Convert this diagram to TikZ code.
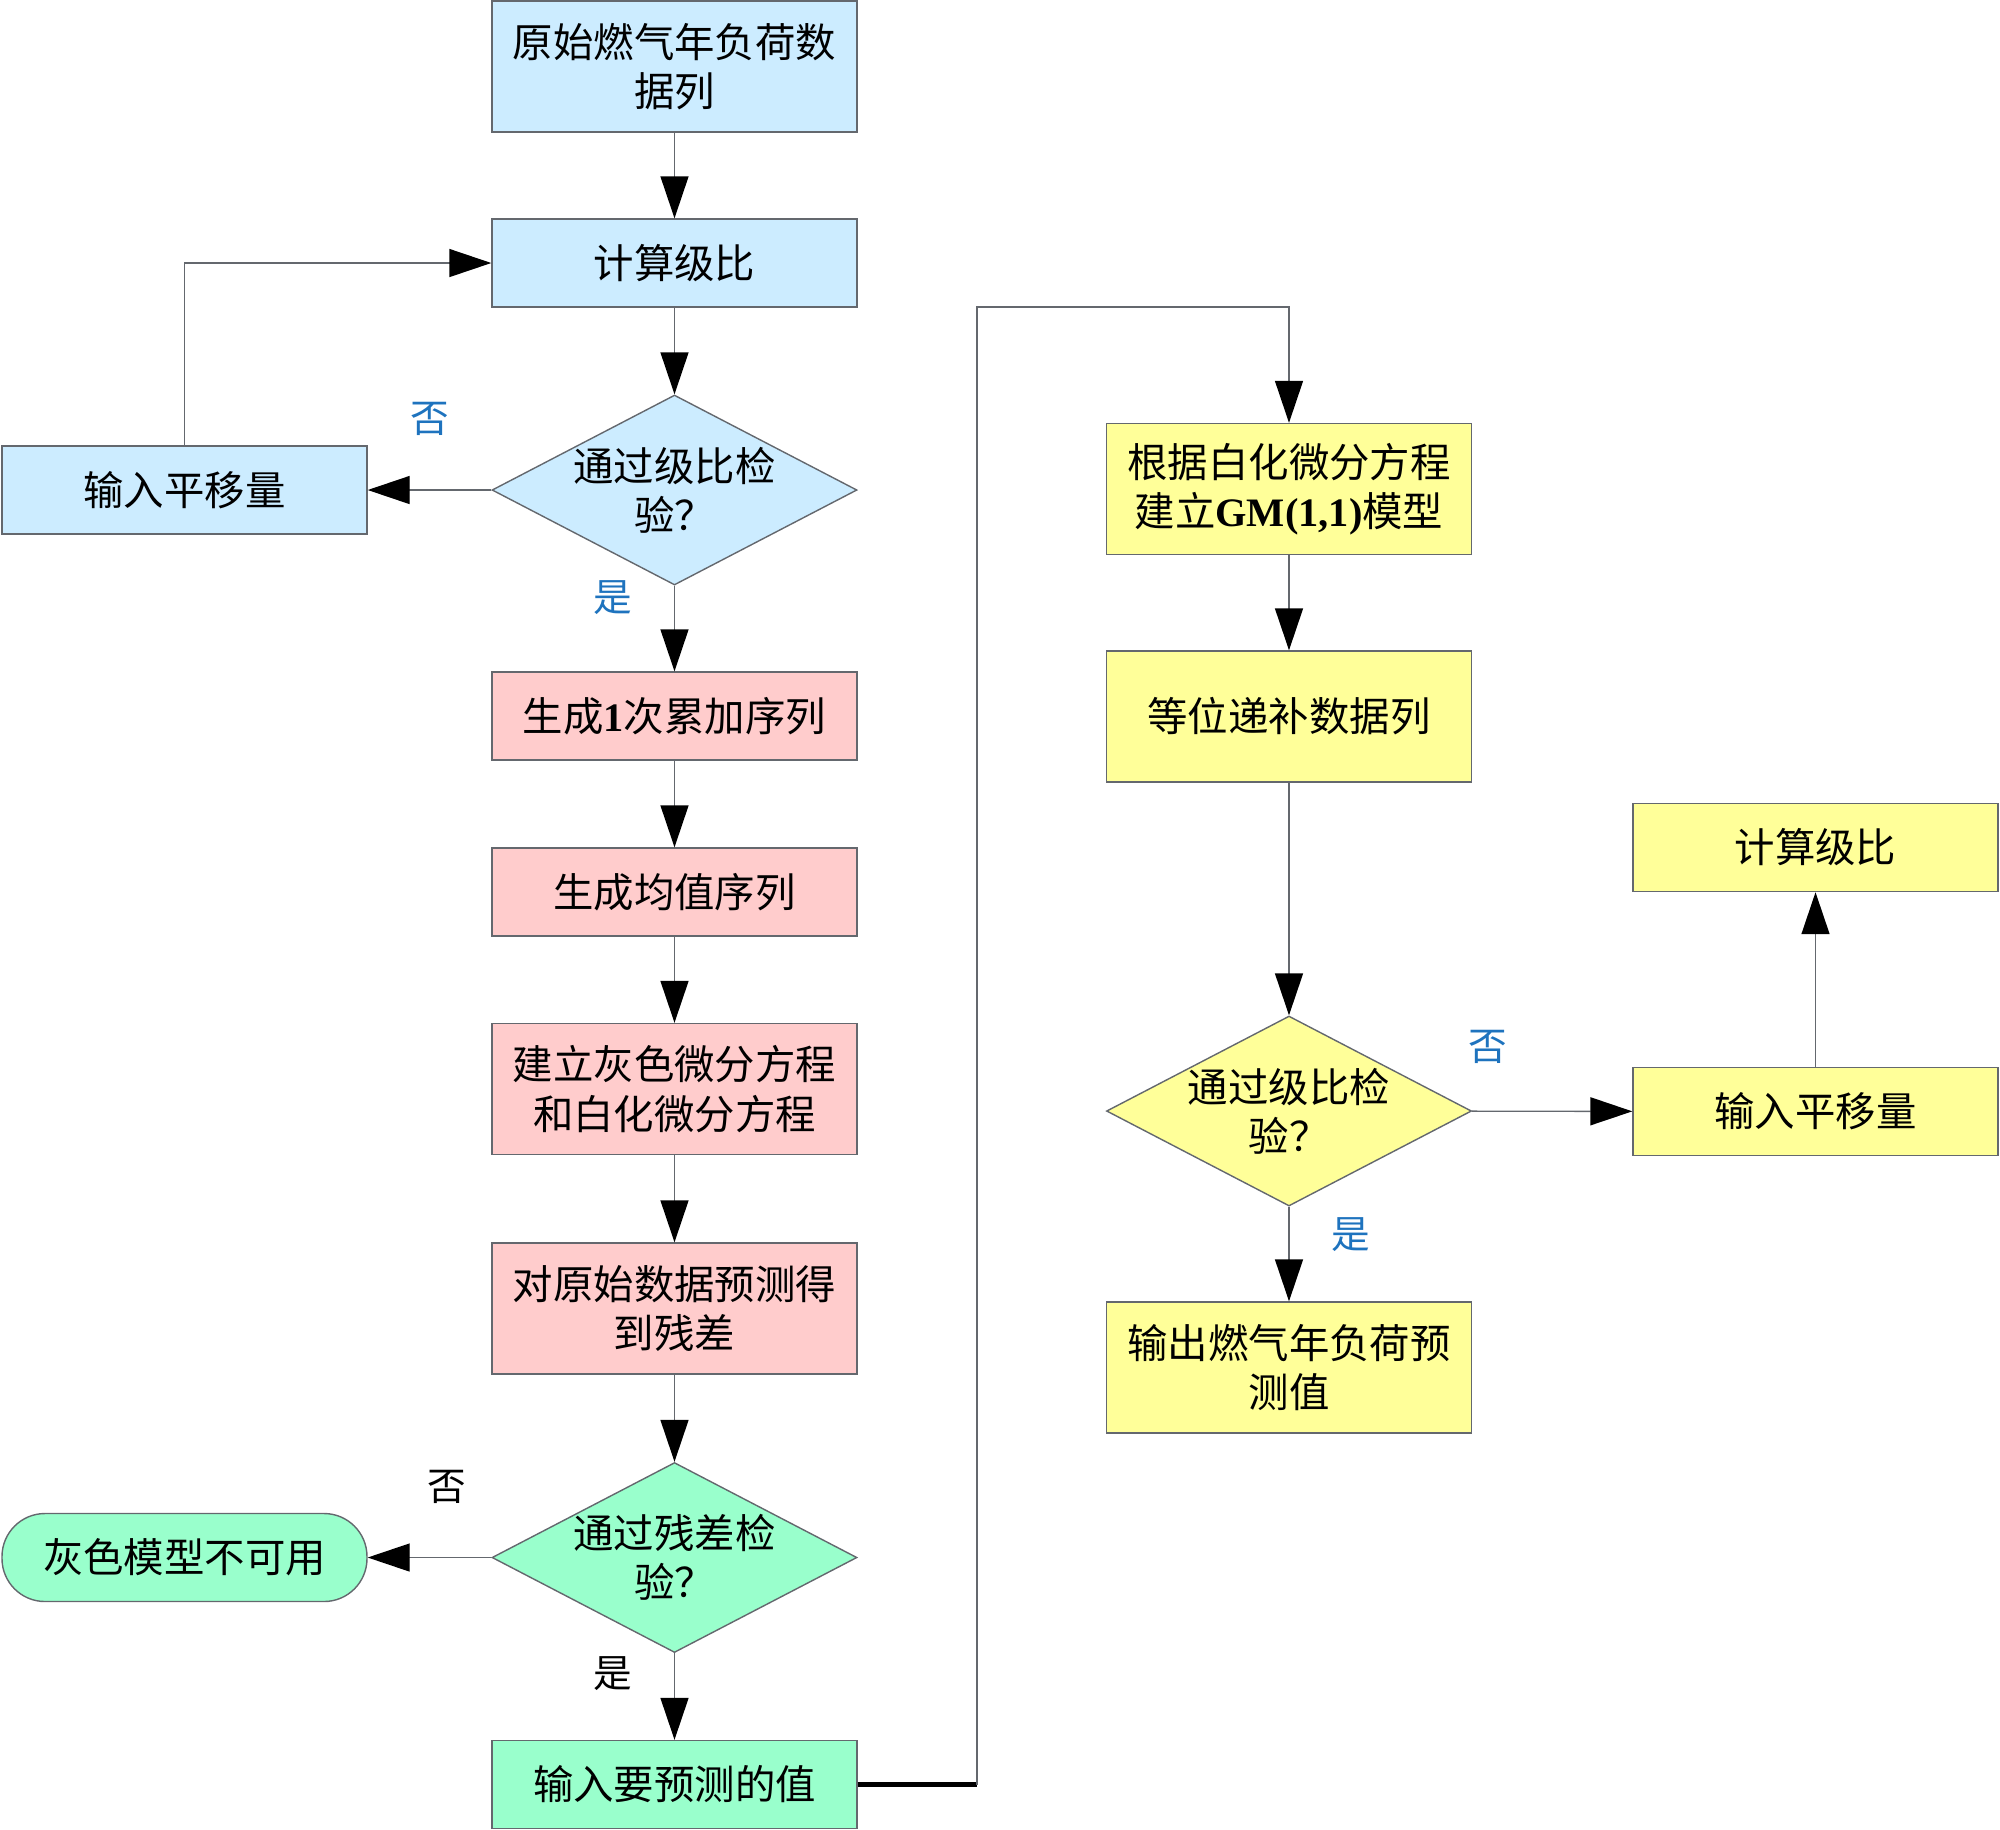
\documentclass[tikz,border=0pt]{standalone}
\usepackage{fontspec}
\usepackage{tikz}
\usepackage{xcolor}
\usetikzlibrary{arrows.meta,shapes.geometric}
\newfontfamily\cjk{Noto Sans CJK SC}
\newfontfamily\lat{Liberation Serif}

\definecolor{boxblue}{RGB}{204,236,255}
\definecolor{boxpink}{RGB}{255,204,204}
\definecolor{boxgreen}{RGB}{153,255,204}
\definecolor{boxyellow}{RGB}{255,255,153}
\definecolor{lineg}{RGB}{100,104,110}
\definecolor{lblblue}{RGB}{30,115,190}

\begin{document}
\begin{tikzpicture}[>={Triangle[length=4.2mm,width=2.8mm,color=black]},
  every node/.style={font=\cjk\fontsize{11.5}{14}\selectfont},
  stepbox/.style={draw=lineg, line width=0.4pt, minimum width=3.65cm, text width=3.4cm, align=center, inner sep=0pt},
  onebox/.style={stepbox, minimum height=0.88cm},
  twobox/.style={stepbox, minimum height=1.31cm},
  check/.style={diamond, draw=lineg, line width=0.4pt, minimum width=3.65cm, minimum height=1.9cm, aspect=1.92, inner sep=-3pt, align=center},
  endbox/.style={draw=lineg, line width=0.4pt, rounded corners=0.43cm, minimum width=3.65cm, minimum height=0.88cm},
  arr/.style={->, draw=lineg, line width=0.4pt},
  lab/.style={font=\cjk\fontsize{11}{13}\selectfont}]
  \useasboundingbox (0,0) rectangle (20,-18.29);
  %coordinates
  \coordinate (Data)   at (6.745,-0.665);
  \coordinate (Ratio)  at (6.745,-2.63);
  \coordinate (Test1)  at (6.745,-4.90);
  \coordinate (Shift1) at (1.845,-4.90);
  \coordinate (Ago)    at (6.745,-7.16);
  \coordinate (Mean)   at (6.745,-8.92);
  \coordinate (Diff)   at (6.745,-10.89);
  \coordinate (Resid)  at (6.745,-13.085);
  \coordinate (Test2)  at (6.745,-15.575);
  \coordinate (NoUse)  at (1.845,-15.575);
  \coordinate (Input)  at (6.745,-17.845);
  \coordinate (Model)  at (12.89,-4.89);
  \coordinate (Fill)   at (12.89,-7.165);
  \coordinate (Test3)  at (12.89,-11.11);
  \coordinate (Output) at (12.89,-13.675);
  \coordinate (Shift2) at (18.155,-11.115);
  \coordinate (Ratio2) at (18.155,-8.475);

  %nodes
  \node[twobox, fill=boxblue] (A) at (Data) {原始燃气年负荷数\\据列};
  \node[onebox, fill=boxblue] (B) at (Ratio) {计算级比};
  \node[check, fill=boxblue] (C) at (Test1) {通过级比检\\验？};
  \node[onebox, fill=boxblue] (D) at (Shift1) {输入平移量};
  \node[onebox, fill=boxpink] (E) at (Ago) {生成{\lat\bfseries 1}次累加序列};
  \node[onebox, fill=boxpink] (F) at (Mean) {生成均值序列};
  \node[twobox, fill=boxpink] (G) at (Diff) {建立灰色微分方程\\和白化微分方程};
  \node[twobox, fill=boxpink] (H) at (Resid) {对原始数据预测得\\到残差};
  \node[check, fill=boxgreen] (I) at (Test2) {通过残差检\\验？};
  \node[endbox, fill=boxgreen] (J) at (NoUse) {灰色模型不可用};
  \node[onebox, fill=boxgreen] (K) at (Input) {输入要预测的值};
  \node[twobox, fill=boxyellow] (L) at (Model) {根据白化微分方程\\建立{\lat\bfseries GM(1,1)}模型};
  \node[twobox, fill=boxyellow] (M) at (Fill) {等位递补数据列};
  \node[check, fill=boxyellow] (N) at (Test3) {通过级比检\\验？};
  \node[twobox, fill=boxyellow] (O) at (Output) {输出燃气年负荷预\\测值};
  \node[onebox, fill=boxyellow] (P) at (Shift2) {输入平移量};
  \node[onebox, fill=boxyellow] (Q) at (Ratio2) {计算级比};
  \coordinate (turn1) at (9.77,-17.845);
  \coordinate (turn2) at (9.77,-3.07);

\draw[arr] (A) -- (B);
\draw[arr] (B) -- (C);
\draw[arr] (C) -- node[lab, pos=0.5, above=0.42cm, text=lblblue] {否} (D);
\draw[arr] (D.north) |- (B.west);
\draw[arr] (C) -- node[lab, pos=0.14, left=0.3cm, text=lblblue] {是} (E);
\draw[arr] (E) -- (F);
\draw[arr] (F) -- (G);
\draw[arr] (G) -- (H);
\draw[arr] (H) -- (I);
\draw[arr] (I) -- node[lab, pos=0.36, above=0.42cm] {否} (J);
\draw[arr] (I) -- node[lab, pos=0.24, left=0.3cm] {是} (K);
\draw[draw=black, line width=1.2pt] (K.east) -- (turn1);
\draw[arr] (turn1) -- (turn2) -| (L.north);
\draw[arr] (L) -- (M);
\draw[arr] (M) -- (N);
\draw[arr] (N) -- node[lab, pos=0.1, above=0.35cm, text=lblblue] {否} (P);
\draw[arr] (N) -- node[lab, pos=0.3, right=0.3cm, text=lblblue] {是} (O);
\draw[arr] (P) -- (Q);

\end{tikzpicture}
\end{document}
